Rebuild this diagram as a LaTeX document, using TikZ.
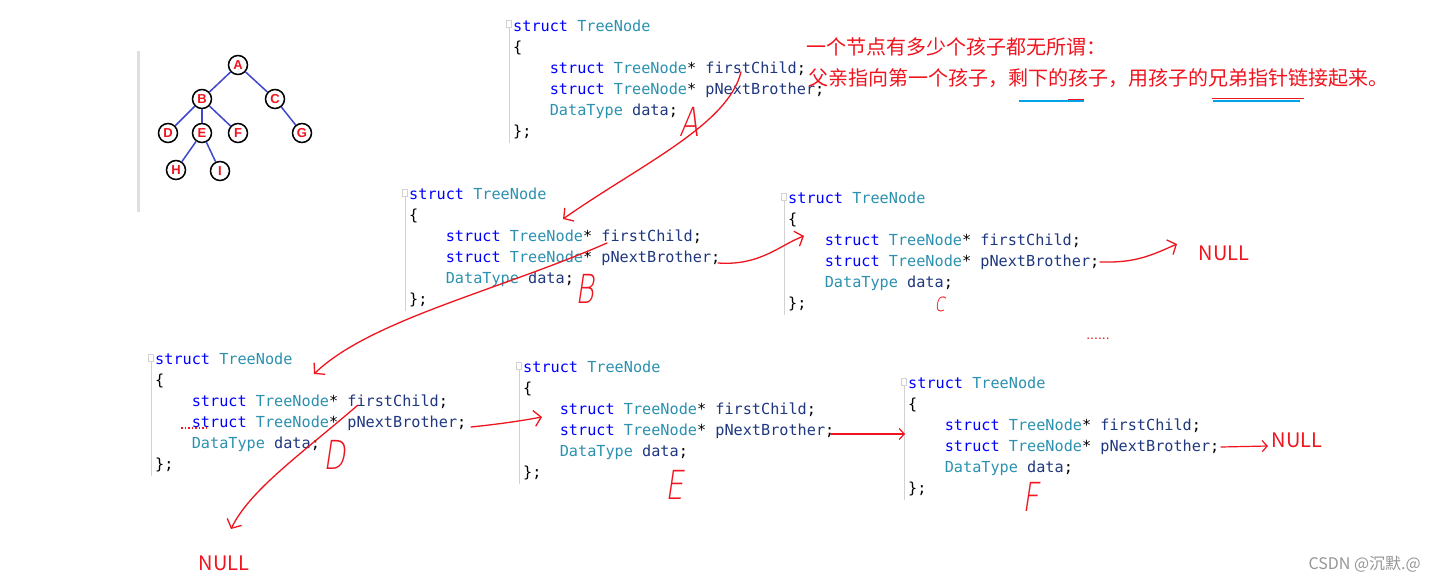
\documentclass[tikz,border=0pt]{standalone}
\usepackage{fontspec}
\usetikzlibrary{arrows.meta}
\newfontfamily\cjk{Noto Sans CJK SC}
\newfontfamily\codefont{DejaVu Sans Mono}
\newfontfamily\lsans{Liberation Sans}
\newfontfamily\hand[FakeSlant=0.15,FakeStretch=0.72]{DejaVuSans-ExtraLight.ttf}
\definecolor{hred}{RGB}{240,20,30}
\definecolor{kwblue}{RGB}{0,0,255}
\definecolor{tyteal}{RGB}{43,145,175}
\definecolor{idnavy}{RGB}{31,55,127}
\definecolor{treeblue}{RGB}{63,72,204}
\definecolor{gutgray}{RGB}{210,210,210}
\definecolor{wmgray}{RGB}{150,150,150}
\definecolor{ulblue}{RGB}{0,162,232}
\newcommand\kw[1]{\textcolor{kwblue}{#1}}
\newcommand\ty[1]{\textcolor{tyteal}{#1}}
\newcommand\idn[1]{\textcolor{idnavy}{#1}}
\newcommand\tncode{\rule{0pt}{15pt}\kw{struct} \ty{TreeNode}\\
\{\\
\hspace*{36.6pt}\kw{struct} \ty{TreeNode}* \idn{firstChild};\\
\hspace*{36.6pt}\kw{struct} \ty{TreeNode}* \idn{pNextBrother};\\
\hspace*{36.6pt}\ty{DataType} \idn{data};\\
\};}
\tikzset{
  code/.style={anchor=north west, inner sep=0pt, align=left, font=\codefont\fontsize{15.2}{21}\selectfont},
  gutter/.style={draw=gutgray, line width=1pt},
  tn/.style={circle, draw=black, line width=1.5pt, fill=white, minimum size=19pt, inner sep=0pt,
    text=hred, font=\lsans\bfseries\fontsize{13}{13}\selectfont},
  tedge/.style={draw=treeblue, line width=1.5pt},
  hand/.style={draw=hred, line width=1.3pt, line cap=round,
    -{Straight Barb[length=7pt,width=16pt,line width=1.3pt]}},
  handsmall/.style={draw=hred, line width=1.2pt, line cap=round,
    -{Straight Barb[length=5pt,width=11pt,line width=1.2pt]}},
  hletter/.style={text=hred, inner sep=0pt, font=\hand\fontsize{40}{40}\selectfont},
  nulltxt/.style={text=hred, inner sep=0pt, font=\cjk\fontsize{20}{20}\selectfont},
  redtxt/.style={text=hred, inner sep=0pt, anchor=west, font=\cjk\fontsize{20}{22}\selectfont}
}
\newcommand\codeblock[3]{%
  \draw[gutter] (#2-4,#3-9) -- (#2-4,#3+112);
  \draw[gutter, fill=white] (#2-7,#3-10) rectangle (#2-2,#3-3);
  \node[code] (#1) at (#2,#3-15) {\tncode};
}
\begin{document}
\begin{tikzpicture}[x=1pt,y=-1pt]
\useasboundingbox (0,0) rectangle (1437,583);
\fill[white] (0,0) rectangle (1437,583);

% small tree
\fill[gutgray!70] (137,51) rectangle (140,212);
\node[tn] (tA) at (238,65) {A};
\node[tn] (tB) at (202,99) {B};
\node[tn] (tC) at (275,99) {C};
\node[tn] (tD) at (168,133) {D};
\node[tn] (tE) at (202,133) {E};
\node[tn] (tF) at (238,133) {F};
\node[tn] (tG) at (302,133) {G};
\node[tn] (tH) at (176,170) {H};
\node[tn] (tI) at (220,171) {I};
\draw[tedge] (tA) -- (tB);
\draw[tedge] (tA) -- (tC);
\draw[tedge] (tB) -- (tD);
\draw[tedge] (tB) -- (tE);
\draw[tedge] (tB) -- (tF);
\draw[tedge] (tC) -- (tG);
\draw[tedge] (tE) -- (tH);
\draw[tedge] (tE) -- (tI);

% code blocks
\codeblock{nA}{513}{31}
\codeblock{nB}{409}{199}
\codeblock{nC}{788}{203}
\codeblock{nD}{155}{364}
\codeblock{nE}{523}{372}
\codeblock{nF}{908}{388}

% red notes
\node[redtxt] (note1) at (806,47) {一个节点有多少个孩子都无所谓：};
\node[redtxt] (note2) at (808,78) {父亲指向第一个孩子，剩下的孩子，用孩子的兄弟指针链接起来。};
\draw[ulblue, line width=1.5pt] (1019,101) -- (1084,101);
\draw[hred, line width=1.2pt] (1068,99.5) -- (1084,99.5);
\draw[ulblue, line width=1.5pt] (1213,101) -- (1300,101);
\draw[hred, line width=1.2pt] (1212,98.5) -- (1304,98.5);

% hand letters
\node[hletter] (lA) at (689,122) {A};
\node[hletter] (lB) at (585,289) {B};
\node[hletter, font=\hand\fontsize{26}{26}\selectfont] (lC) at (940,304) {c};
\node[hletter] (lD) at (335,455) {D};
\node[hletter] (lE) at (675,485) {E};
\node[hletter] (lF) at (1031,497) {F};

% NULL labels and dots
\node[nulltxt] (nullC) at (1224,253) {NULL};
\node[nulltxt] (nullF) at (1297,440) {NULL};
\node[nulltxt] (nullD) at (224,563) {NULL};
\node[text=hred, inner sep=0pt, font=\lsans\fontsize{14}{14}\selectfont] (dots) at (1098,339) {......};
\draw[hred, line width=1.5pt, dotted] (181,428) -- (207,428);

% connector end points
\coordinate (A-fc) at (741,72);
\coordinate (B-in) at (563,219);
\coordinate (B-nb) at (718,263);
\coordinate (C-in) at (804,236);
\coordinate (C-nb) at (1100,262);
\coordinate (C-out) at (1177,244);
\coordinate (B-fc) at (607,243);
\coordinate (D-in) at (314,374);
\coordinate (D-nb) at (471,427);
\coordinate (E-in) at (542,417);
\coordinate (E-nb) at (831,434);
\coordinate (F-in) at (905,434);
\coordinate (F-nb) at (1221,447);
\coordinate (F-out) at (1268,446);
\coordinate (D-fc) at (358,405);
\coordinate (D-out) at (231,529);

% red hand-drawn connectors
\draw[hand] (A-fc) .. controls (728,125) and (640,165) .. (B-in);
\draw[hand] (B-nb) .. controls (760,266) and (780,245) .. (C-in);
\draw[hand] (C-nb) .. controls (1135,263) and (1150,256) .. (C-out);
\draw[hand] (B-fc) .. controls (500,290) and (370,320) .. (D-in);
\draw[hand] (D-nb) .. controls (500,424) and (520,421) .. (E-in);
\draw[handsmall] (E-nb) -- (F-in);
\draw[handsmall] (F-nb) -- (F-out);
\draw[hand] (D-fc) .. controls (300,455) and (250,490) .. (D-out);

% watermark
\node[text=wmgray, inner sep=0pt, anchor=east, font=\cjk\fontsize{16}{16}\selectfont] (wm) at (1421,564) {CSDN @沉默.@};
\end{tikzpicture}
\end{document}
